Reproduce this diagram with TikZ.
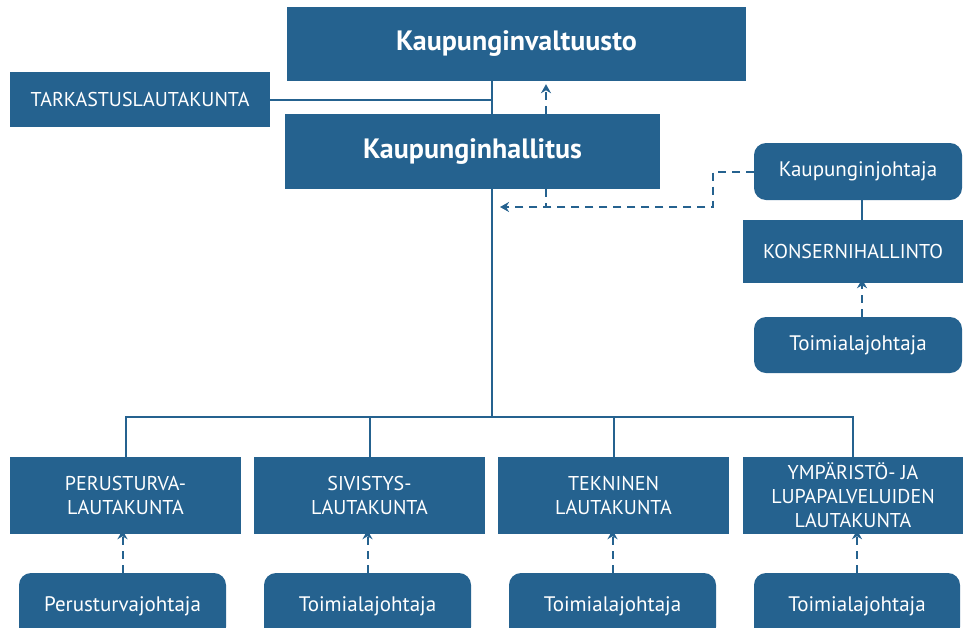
\documentclass[tikz,border=0pt]{standalone}
\usepackage{fontspec}
\setmainfont{PT Sans}
\usetikzlibrary{arrows.meta}
\definecolor{OrgBlue}{RGB}{37,98,143}

\tikzset{
  unit/.style={fill=OrgBlue,text=white,inner sep=0pt,align=center,font=\fontsize{20}{24}\selectfont},
  topunit/.style={unit,font=\fontsize{28}{30}\selectfont\bfseries},
  leader/.style={unit,rounded corners=12pt,font=\fontsize{21}{24}\selectfont},
  link/.style={draw=OrgBlue,line width=2pt},
  report/.style={draw=OrgBlue,line width=2pt,dash pattern=on 8pt off 6pt,-{Stealth[length=9pt,width=10pt]}},
}

\begin{document}
\begin{tikzpicture}[x=1pt,y=-1pt]
    \useasboundingbox (0,0) rectangle (963,627);

    \node[topunit,minimum width=459pt,minimum height=74pt] (valtuusto) at (516.5,44) {Kaupunginvaltuusto};
    \node[unit,minimum width=260pt,minimum height=55pt] (tarkastus) at (140,99.5) {TARKASTUSLAUTAKUNTA};
    \node[topunit,minimum width=375pt,minimum height=75pt] (hallitus) at (472.5,151.5) {Kaupunginhallitus};

    \node[leader,minimum width=208pt,minimum height=57pt] (kjohtaja) at (858,171.5) {Kaupunginjohtaja};
    \node[unit,minimum width=220pt,minimum height=63pt] (konserni) at (853,251.5) {KONSERNIHALLINTO};
    \node[leader,minimum width=208pt,minimum height=56pt] (tjohtaja0) at (858,345) {Toimialajohtaja};

    \node[unit,minimum width=231pt,minimum height=77pt] (perus) at (125.5,495.5) {PERUSTURVA-\\LAUTAKUNTA};
    \node[unit,minimum width=231pt,minimum height=77pt] (sivistys) at (369.5,495.5) {SIVISTYS-\\LAUTAKUNTA};
    \node[unit,minimum width=231pt,minimum height=77pt] (tekninen) at (613.5,495.5) {TEKNINEN\\LAUTAKUNTA};
    \node[unit,minimum width=220pt,minimum height=77pt] (ymparisto) at (853,495.5) {YMPÄRISTÖ- JA\\LUPAPALVELUIDEN\\LAUTAKUNTA};

    \node[leader,minimum width=207pt,minimum height=66pt] (pjohtaja) at (122.5,606) {Perusturvajohtaja};
    \node[leader,minimum width=207pt,minimum height=66pt] (tjohtaja1) at (367.5,606) {Toimialajohtaja};
    \node[leader,minimum width=207pt,minimum height=66pt] (tjohtaja2) at (612.5,606) {Toimialajohtaja};
    \node[leader,minimum width=206pt,minimum height=66pt] (tjohtaja3) at (857,606) {Toimialajohtaja};

    \coordinate (spine) at (492,99.5);
    \coordinate (bus) at (492,417);
    \coordinate (hook) at (500,207);
    \coordinate (rise) at (546,0);

    % valtuusto - hallitus
    \draw[link] (tarkastus.east) -- (spine);
    \draw[link] (spine |- valtuusto.south) -- (spine |- hallitus.north);
    \draw[report] (rise |- hallitus.north) -- ([yshift=-3pt]rise |- valtuusto.south);

    % lautakunnat
    \draw[link] (spine |- hallitus.south) -- (bus);
    \draw[link] (perus.north) |- (ymparisto.north |- bus) -- (ymparisto.north);
    \draw[link] (sivistys.north) -- (sivistys.north |- bus);
    \draw[link] (tekninen.north) -- (tekninen.north |- bus);

    % kaupunginjohtaja
    \draw[report] (kjohtaja.west) -- ++(-41,0) |- (hook);
    \draw[report,-] (rise |- hallitus.south) -- (rise |- hook);
    \draw[link] ([xshift=4pt]kjohtaja.south) -- ([xshift=4pt]kjohtaja.south |- konserni.north);
    \draw[report] ([xshift=4pt]tjohtaja0.north) -- ([xshift=4pt,yshift=4pt]tjohtaja0.north |- konserni.south);

    \draw[report] (pjohtaja.north) -- ([yshift=4pt]pjohtaja.north |- perus.south);
    \draw[report] (tjohtaja1.north) -- ([yshift=4pt]tjohtaja1.north |- sivistys.south);
    \draw[report] (tjohtaja2.north) -- ([yshift=4pt]tjohtaja2.north |- tekninen.south);
    \draw[report] (tjohtaja3.north) -- ([yshift=4pt]tjohtaja3.north |- ymparisto.south);
\end{tikzpicture}
\end{document}
